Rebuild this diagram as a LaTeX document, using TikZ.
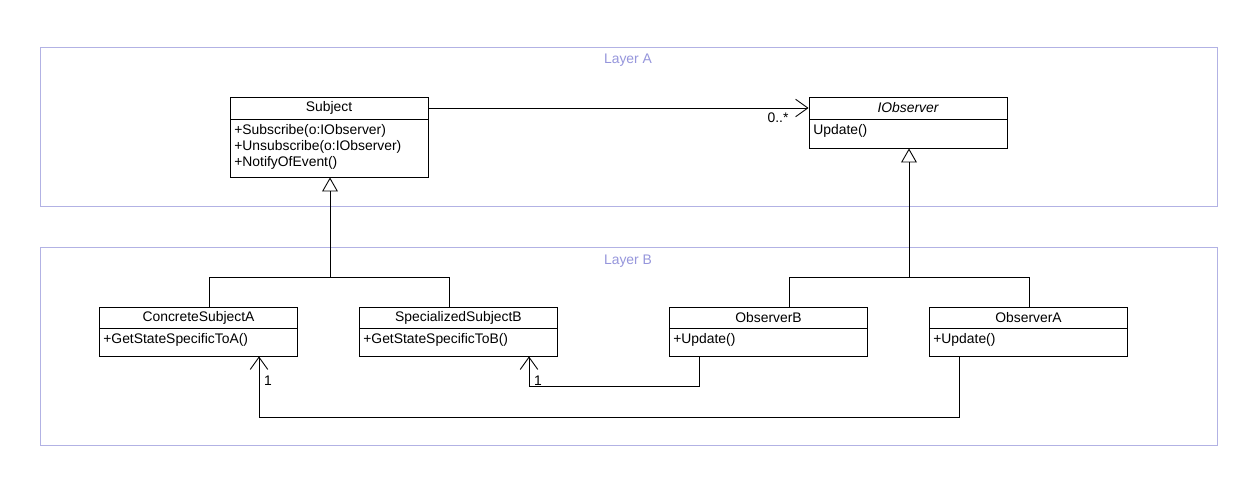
\documentclass[tikz,border=0pt]{standalone}
\usepackage{fontspec}
\setmainfont{Liberation Sans}
\usetikzlibrary{arrows.meta}
\definecolor{layerc}{RGB}{178,178,228}
\definecolor{layert}{RGB}{150,150,220}
\tikzset{
  px/.style={x=0.02cm,y=-0.02cm},
  layerbox/.style={draw=layerc,line width=0.5pt,inner sep=0pt},
  layerlbl/.style={text=layert,font=\fontsize{7.9}{9}\selectfont},
  umlbox/.style={draw,line width=0.5pt,inner sep=0pt,minimum width=3.96cm},
  txt/.style={font=\fontsize{7.9}{9}\selectfont,inner sep=0pt},
  meth/.style={txt,anchor=west},
  line/.style={line width=0.5pt},
  gen/.style={line,-{Triangle[open,length=8pt,width=9pt]}},
  dep/.style={line,-{Straight Barb[length=7pt,width=10pt]}},
}
\begin{document}
\begin{tikzpicture}[px]
\useasboundingbox (0,0) rectangle (1254,479);
\fill[white] (0,0) rectangle (1254,479);
% layers
\node[layerbox,minimum width=23.56cm,minimum height=3.18cm] (layA) at (629,126.5) {};
\node[layerlbl] (layAl) at (628,60) {Layer A};
\node[layerbox,minimum width=23.56cm,minimum height=3.96cm] (layB) at (629,346) {};
\node[layerlbl] (layBl) at (628,261) {Layer B};
% Subject
\node[umlbox,minimum height=1.6cm] (subj) at (329,137) {};
\draw[line] (230,119) -- (428,119);
\node[txt] (subjh) at (329,108) {Subject};
\node[meth] (subjm1) at (234,131) {+Subscribe(o:IObserver)};
\node[meth] (subjm2) at (234,147) {+Unsubscribe(o:IObserver)};
\node[meth] (subjm3) at (234,163) {+NotifyOfEvent()};
% IObserver
\node[umlbox,minimum height=1.02cm] (iobs) at (908,122.5) {};
\draw[line] (809,119) -- (1007,119);
\node[txt] (iobsh) at (908,108) {\itshape IObserver};
\node[meth] (iobsm) at (813,131) {Update()};
% bottom classes
\node[umlbox,minimum height=0.98cm] (csa) at (198.5,331.5) {};
\draw[line] (99,328) -- (298,328);
\node[txt] (csah) at (198.5,318) {ConcreteSubjectA};
\node[meth] (csam) at (103,340) {+GetStateSpecificToA()};
\node[umlbox,minimum height=0.98cm] (ssb) at (458.5,331.5) {};
\draw[line] (359,328) -- (558,328);
\node[txt] (ssbh) at (458.5,318) {SpecializedSubjectB};
\node[meth] (ssbm) at (363,340) {+GetStateSpecificToB()};
\node[umlbox,minimum height=0.98cm] (obb) at (768.5,331.5) {};
\draw[line] (669,328) -- (868,328);
\node[txt] (obbh) at (768.5,318) {ObserverB};
\node[meth] (obbm) at (673,340) {+Update()};
\node[umlbox,minimum height=0.98cm] (oba) at (1028.5,331.5) {};
\draw[line] (929,328) -- (1128,328);
\node[txt] (obah) at (1028.5,318) {ObserverA};
\node[meth] (obam) at (933,340) {+Update()};
% association
\draw[dep] (subj.east |- subjh) -- (iobs.west |- subjh);
\node[txt] (mult) at (778,118) {0..*};
% generalizations
\coordinate (gj1) at (330,277);
\draw[line] (csa.north -| 209,0) |- (gj1);
\draw[line] (ssb.north -| 449,0) |- (gj1);
\draw[gen] (gj1) -- (gj1 |- subj.south);
\coordinate (gj2) at (909,277);
\draw[line] (obb.north -| 789,0) |- (gj2);
\draw[line] (oba.north -| 1029,0) |- (gj2);
\draw[gen] (gj2) -- (gj2 |- iobs.south);
% dependencies
\coordinate (d1) at (699,386);
\draw[dep] (obb.south -| d1) |- (529,386) -- (ssb.south -| 529,0);
\node[txt] (one1) at (538,381) {1};
\coordinate (d2) at (959,417);
\draw[dep] (oba.south -| d2) |- (259,417) -- (csa.south -| 259,0);
\node[txt] (one2) at (268,381) {1};
\end{tikzpicture}
\end{document}
